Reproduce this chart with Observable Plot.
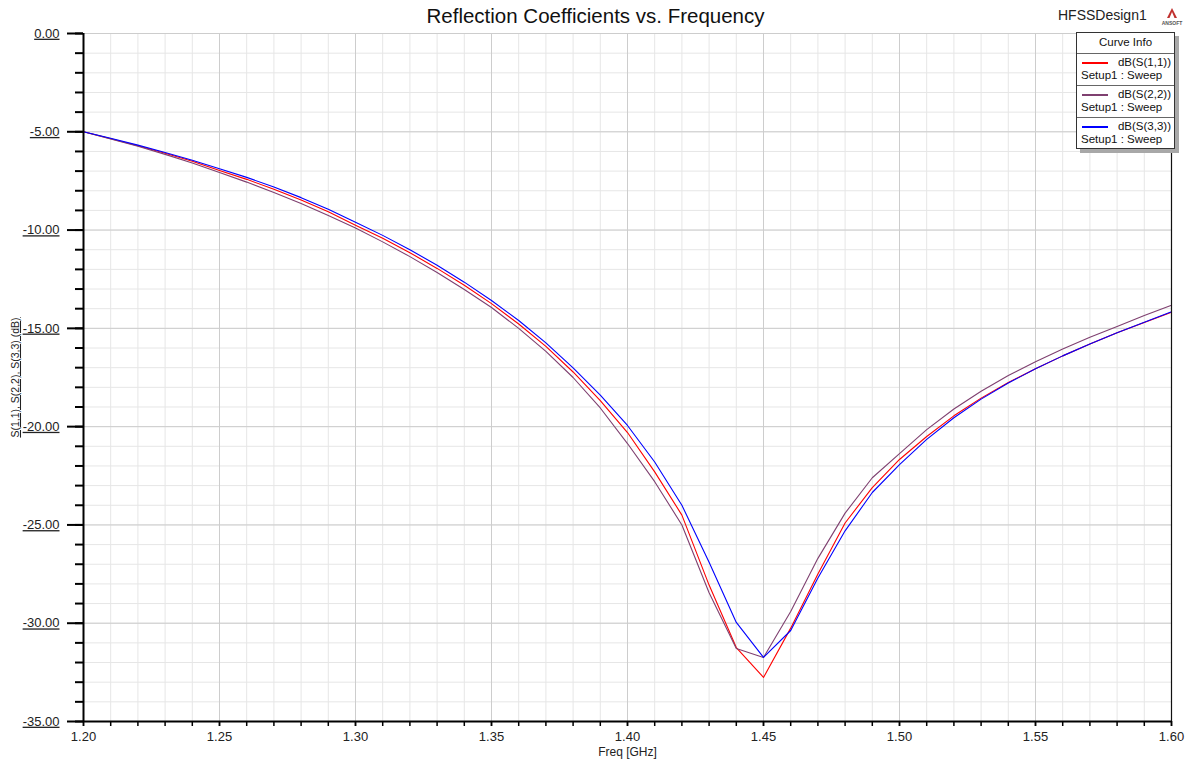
<!DOCTYPE html>
<html>
<head>
<meta charset="utf-8">
<script src="https://cdn.jsdelivr.net/npm/d3@7"></script>
<script src="https://cdn.jsdelivr.net/npm/@observablehq/plot@0.6"></script>
<style>
  body { margin: 0; background: #fff; font-family: "Liberation Sans", Arial, sans-serif; }
  #wrap { position: relative; width: 1187px; height: 759px; overflow: hidden; }
  #chart { position: absolute; left: 0; top: 0; }
  #title { position: absolute; left: 0; width: 1187px; top: 4px; text-align: center; font-size: 20.5px; color: #111; padding-left: 2px; }
  #design { position: absolute; left: 1058px; top: 7px; font-size: 14px; color: #222; }
  #logo { position: absolute; left: 1158px; top: 6px; }
  #legend { position: absolute; left: 1076px; top: 32px; width: 97px; height: 115px; background: #fff;
            border: 1px solid #333; box-shadow: 4px 4px 0 #a8a8a8; font-size: 11.5px; color: #111; }
  #legend .head { position: absolute; left: 0; top: 3px; width: 97px; text-align: center; }
  #legend .entry { position: absolute; left: 0; width: 97px; height: 32px; border-top: 1px solid #666; }
  #legend .swatch { position: absolute; left: 5px; top: 8px; width: 26px; height: 2px; }
  #legend .name { position: absolute; right: 3px; top: 2px; }
  #legend .setup { position: absolute; left: 4px; top: 15px; }
</style>
</head>
<body>
<div id="wrap">
  <div id="chart"></div>
  <div id="title">Reflection Coefficients vs. Frequency</div>
  <div id="design">HFSSDesign1</div>
  <svg id="logo" width="28" height="22" viewBox="0 0 28 22">
    <polygon points="14,2 19,12 9,12" fill="#c0312f"/>
    <polygon points="14,6 16.5,12 11.5,12" fill="#fff"/>
    <text x="14" y="19" text-anchor="middle" font-size="5" font-weight="bold" fill="#555" font-family="Liberation Sans, Arial">ANSOFT</text>
  </svg>
  <div id="legend"></div>
</div>
<script>
// Frequency sweep points (GHz)
const freq = [1.20, 1.21, 1.22, 1.23, 1.24, 1.25, 1.26, 1.27, 1.28, 1.29,
              1.30, 1.31, 1.32, 1.33, 1.34, 1.35, 1.36, 1.37, 1.38, 1.39,
              1.40, 1.41, 1.42, 1.43, 1.44, 1.45, 1.46, 1.47, 1.48, 1.49,
              1.50, 1.51, 1.52, 1.53, 1.54, 1.55, 1.56, 1.57, 1.58, 1.59, 1.60];

// Return loss of each port (dB)
const s11 = [-5.00, -5.35, -5.71, -6.09, -6.50, -6.97, -7.42, -7.92, -8.47, -9.07,
             -9.75, -10.42, -11.15, -11.95, -12.81, -13.74, -14.78, -15.92, -17.22, -18.68,
             -20.30, -22.30, -24.50, -28.06, -31.24, -32.76, -30.25, -27.50, -24.90, -23.10,
             -21.67, -20.50, -19.45, -18.55, -17.75, -17.05, -16.40, -15.80, -15.22, -14.70, -14.18];
const s22 = [-5.00, -5.36, -5.74, -6.15, -6.59, -7.07, -7.56, -8.09, -8.65, -9.26,
             -9.90, -10.60, -11.35, -12.16, -13.02, -13.94, -15.00, -16.17, -17.50, -19.05,
             -20.86, -22.80, -25.00, -28.45, -31.29, -31.74, -29.40, -26.70, -24.40, -22.60,
             -21.37, -20.15, -19.10, -18.20, -17.40, -16.70, -16.05, -15.45, -14.90, -14.35, -13.82];
const s33 = [-5.00, -5.33, -5.68, -6.05, -6.45, -6.88, -7.32, -7.81, -8.35, -8.94,
             -9.60, -10.27, -11.00, -11.79, -12.65, -13.58, -14.60, -15.74, -17.01, -18.40,
             -19.94, -21.80, -24.00, -26.90, -29.96, -31.74, -30.37, -27.70, -25.30, -23.35,
             -21.93, -20.65, -19.55, -18.60, -17.78, -17.06, -16.40, -15.80, -15.22, -14.69, -14.16];

const traces = ["dB(S(1,1))", "dB(S(2,2))", "dB(S(3,3))"];
const traceColors = ["#ff0000", "#7f4070", "#0000ff"];
const setupName = "Setup1 : Sweep";

// Axis ticks
const xTicks = [1.20, 1.25, 1.30, 1.35, 1.40, 1.45, 1.50, 1.55, 1.60];
const yTicks = [0, -5, -10, -15, -20, -25, -30, -35];
const xMinor = d3.range(0, 41).map(i => 1.2 + i * 0.01);
const yMinor = d3.range(-35, 1, 1);

const rows = [];
[s11, s22, s33].forEach((vals, k) => {
  vals.forEach((v, i) => rows.push({freq: freq[i], db: v, trace: traces[k]}));
});

const fmt = d => d.toFixed(2);

const chart = Plot.plot({
  width: 1187,
  height: 759,
  marginLeft: 83,
  marginRight: 16,
  marginTop: 33,
  marginBottom: 38,
  x: {domain: [1.2, 1.6]},
  y: {domain: [-35, 0]},
  color: {domain: traces, range: traceColors},
  style: {fontFamily: "Liberation Sans, Arial, sans-serif", fontSize: "13px", color: "#222", background: "#fff", overflow: "visible"},
  marks: [
    Plot.gridX(xMinor, {stroke: "#e6e6e6", strokeOpacity: 1}),
    Plot.gridY(yMinor, {stroke: "#e6e6e6", strokeOpacity: 1}),
    Plot.gridX(xTicks, {stroke: "#cdcdcd", strokeOpacity: 1}),
    Plot.gridY(yTicks, {stroke: "#cdcdcd", strokeOpacity: 1}),
    Plot.line(rows, {x: "freq", y: "db", z: "trace", stroke: "trace", strokeWidth: 1.1}),
    Plot.ruleX([1.6], {stroke: "#111", strokeWidth: 1.2}),
    Plot.axisY(yMinor, {tickSize: 8, tickFormat: () => "", label: null, stroke: "#000", strokeWidth: 2}),
    Plot.axisY(yTicks, {tickSize: 16, tickPadding: 8, tickFormat: fmt, stroke: "#000", strokeWidth: 2,
                        label: "S(1,1), S(2,2), S(3,3) (dB)", labelAnchor: "center", labelOffset: 72, labelArrow: "none"}),
    Plot.axisX(xMinor, {tickSize: 5, tickFormat: () => "", label: null, stroke: "#000", strokeWidth: 1.5}),
    Plot.axisX(xTicks, {tickSize: 5, tickPadding: 5, tickFormat: fmt, stroke: "#000", strokeWidth: 1.5,
                        label: "Freq [GHz]", labelAnchor: "center", labelOffset: 34, labelArrow: "none"}),
    Plot.ruleY([-35], {stroke: "#000", strokeWidth: 2}),
    Plot.ruleX([1.2], {stroke: "#000", strokeWidth: 2})
  ]
});
document.getElementById("chart").appendChild(chart);

// HFSS-style underlined value labels on the vertical axis; plain axis titles
const svg = d3.select(chart);
svg.selectAll('[aria-label="y-axis tick label"] text').style("text-decoration", "underline");
svg.selectAll('[aria-label="y-axis label"] text')
  .text("S(1,1), S(2,2), S(3,3) (dB)")
  .style("text-decoration", "underline").style("font-size", "10.5px");
svg.selectAll('[aria-label="x-axis label"] text')
  .text("Freq [GHz]").style("font-size", "12px");

// Curve Info box
const legend = d3.select("#legend");
legend.append("div").attr("class", "head").text("Curve Info");
traces.forEach((t, i) => {
  const e = legend.append("div").attr("class", "entry").style("top", (20 + i * 32) + "px");
  e.append("div").attr("class", "swatch").style("background", traceColors[i]);
  e.append("div").attr("class", "name").text(t);
  e.append("div").attr("class", "setup").text(setupName);
});
</script>
</body>
</html>
